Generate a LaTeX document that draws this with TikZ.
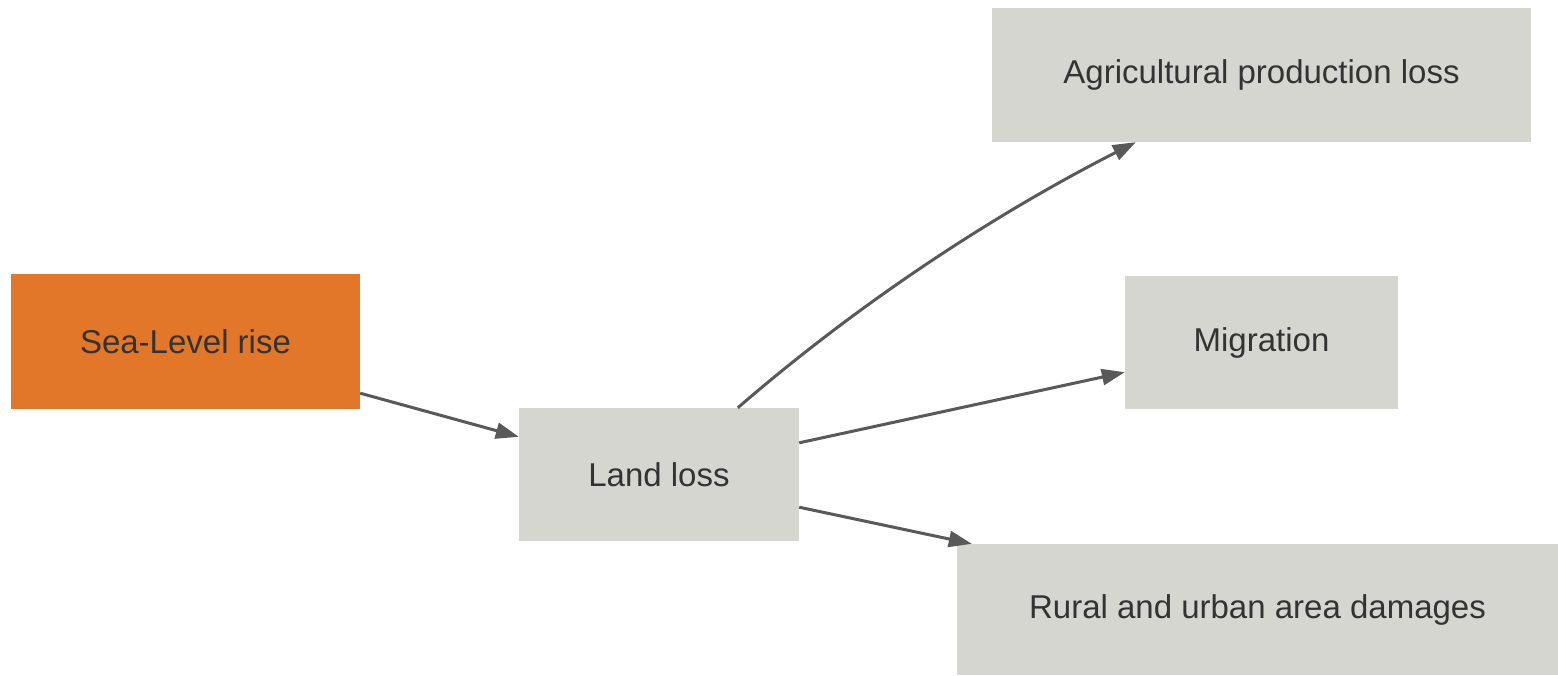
\documentclass[tikz,border=0pt]{standalone}
\usepackage{fontspec}
\setmainfont{Liberation Sans}
\usetikzlibrary{arrows.meta}
\definecolor{boxgray}{HTML}{D6D6D0}
\definecolor{seaorange}{HTML}{E2772A}
\definecolor{txtgray}{HTML}{333333}
\definecolor{arrgray}{HTML}{595959}
\begin{document}
\begin{tikzpicture}[x=1pt,y=-1pt,
  box/.style={rectangle,fill=boxgray,draw=none,inner sep=0pt,text=txtgray,
    font=\fontsize{33}{40}\selectfont},
  conn/.style={draw=arrgray,line width=3pt,-{Triangle[length=23pt,width=16pt]}}]
\useasboundingbox (0,0) rectangle (1558,675);
\fill[white] (0,0) rectangle (1558,675);
\node[box,fill=seaorange,minimum width=349pt,minimum height=135pt] (sea) at (185.5,341.5) {Sea-Level rise};
\node[box,minimum width=280pt,minimum height=133pt] (land) at (659,474.5) {Land loss};
\node[box,minimum width=539pt,minimum height=134pt] (agri) at (1261.5,75) {Agricultural production loss};
\node[box,minimum width=273pt,minimum height=133pt] (mig) at (1261.5,342.5) {Migration};
\node[box,minimum width=601pt,minimum height=131pt] (rural) at (1257.5,609.5) {Rural and urban area damages};
\draw[conn] ([yshift=16pt]sea.south east) -- ([yshift=-29pt]land.north west);
\draw[conn] ([xshift=219pt]land.north west) .. controls (860,302) and (995,214) .. ([xshift=144pt]agri.south west);
\draw[conn] ([yshift=-35pt]land.north east) -- ([yshift=37pt]mig.south west);
\draw[conn] ([yshift=34pt]land.south east) -- ([xshift=15pt]rural.north west);
\end{tikzpicture}
\end{document}
